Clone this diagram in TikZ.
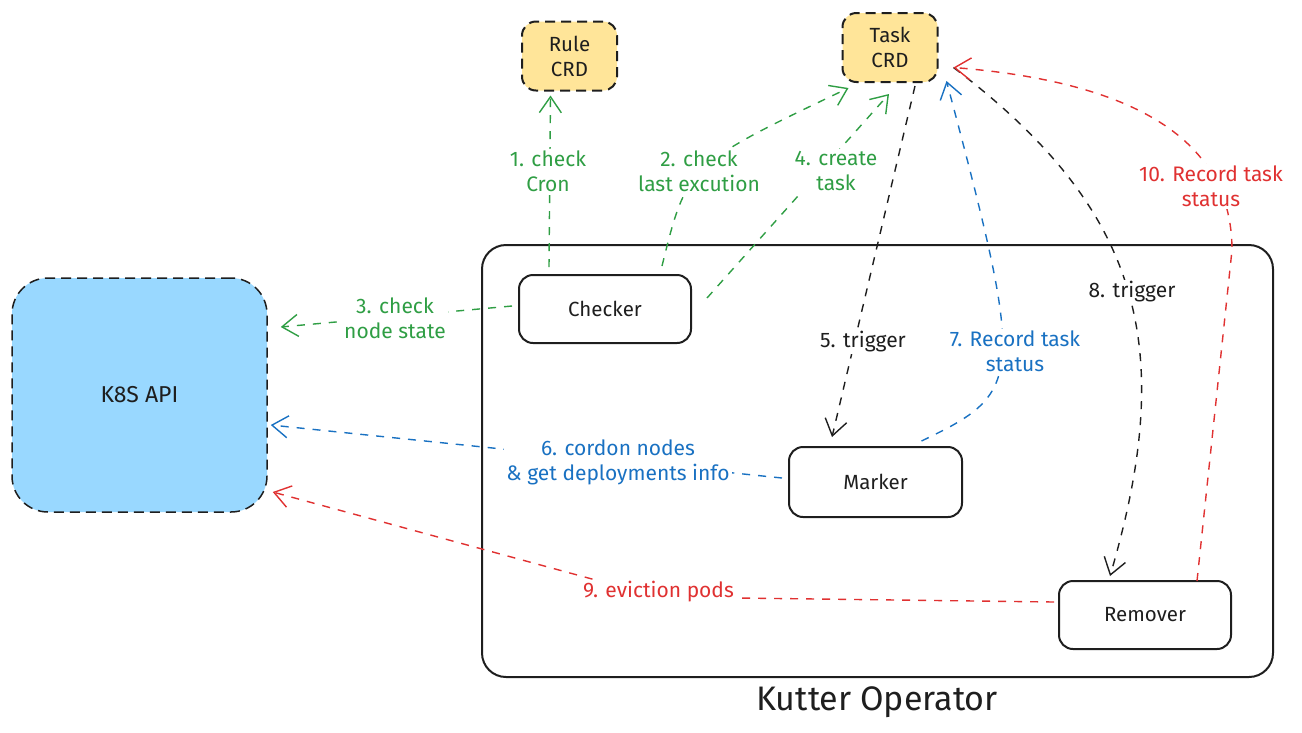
\documentclass[tikz,border=0pt]{standalone}
\usepackage{fontspec}
\setmainfont{Fira Sans}
\usetikzlibrary{arrows.meta,calc}
\definecolor{cgreen}{HTML}{2F9E44}
\definecolor{cblue}{HTML}{1971C2}
\definecolor{cred}{HTML}{E03131}
\definecolor{cink}{HTML}{1E1E1E}
\definecolor{cyellow}{HTML}{FFE599}
\definecolor{csky}{HTML}{99D8FF}
\begin{document}
\begin{tikzpicture}[x=1pt,y=-1pt,
  procbox/.style={draw=cink, line width=2pt, rounded corners=14pt, minimum width=172pt, minimum height=68pt, font=\fontsize{20.5}{24}\selectfont, text=cink},
  crdbox/.style={draw=cink, line width=2pt, dash pattern=on 10pt off 6pt, fill=cyellow, rounded corners=14pt, minimum width=95pt, minimum height=69pt, align=center, font=\fontsize{20.5}{25}\selectfont, text=cink},
  apibox/.style={draw=cink, line width=1.5pt, dash pattern=on 10pt off 6pt, fill=csky, rounded corners=36pt, minimum width=255pt, minimum height=234pt, font=\fontsize{23}{26}\selectfont, text=cink},
  framebox/.style={draw=cink, line width=2pt, rounded corners=24pt, minimum width=791pt, minimum height=432pt},
  conn/.style={line width=1.4pt, dash pattern=on 8pt off 8pt, -{Straight Barb[length=16pt,width=22pt]}},
  lbl/.style={fill=white, inner sep=2pt, align=center, font=\fontsize{21}{25}\selectfont},
]
\useasboundingbox (0,0) rectangle (1302,732);

% frame and boxes
\node[framebox] (op) at (877.5,461) {};
\node[font=\fontsize{34}{40}\selectfont, text=cink] (optitle) at (877,702) {Kutter Operator};
\node[crdbox] (rule) at (569.5,56) {Rule\\CRD};
\node[crdbox] (task) at (890,47.5) {Task\\CRD};
\node[apibox] (k8s) at (139.5,395) {K8S API};
\node[procbox] (checker) at (605,309) {Checker};
\node[procbox, minimum width=173pt, minimum height=70pt] (marker) at (875.5,482) {Marker};
\node[procbox] (remover) at (1145,615) {Remover};

% connectors
\draw[conn, cgreen] ($(checker.north)+(-56,-7)$) -- ($(rule.south)+(-19,4)$);
\draw[conn, cgreen] ($(checker.north)+(57,-8)$) .. controls (687,165) .. ($(task.south west)+(7,5)$);
\draw[conn, cgreen] ($(checker.west)+(-6,-3)$) -- ($(k8s.east)+(13,-68)$);
\draw[conn, cgreen] ($(checker.east)+(15,-11)$) -- ($(task.south)+(-1,11)$);
\draw[conn, cink] ($(task.south)+(25,3)$) -- ($(marker.north)+(-43.5,-9)$);
\draw[conn, cblue] ($(marker.west)+(-6,-4)$) -- ($(k8s.east)+(3,30)$);
\draw[conn, cblue] ($(marker.north)+(46,-5)$) .. controls (1024,392) and (1026,380) .. ($(task.south east)+(8,-2)$);
\draw[conn, cink] ($(task.east)+(15,20)$) .. controls (1140,209) and (1178,345) .. ($(remover.north)+(-35,-4)$);
\coordinate (bend9) at (658,597);
\draw[conn, cred] ($(remover.west)+(-4,-13)$) -- (bend9) -- ($(k8s.east)+(5,97)$);
\coordinate (bend10) at (1232,250);
\draw[conn, cred] ($(remover.north)+(52,1)$) -- (bend10) .. controls (1232,140) and (1135,82) .. ($(task.east)+(15,20)$);

% labels
\node[lbl, text=cgreen] (l1) at (548,171) {1. check\\Cron};
\node[lbl, text=cgreen] (l2) at (699,171) {2. check\\last excution};
\node[lbl, text=cgreen] (l3) at (395,318) {3. check\\node state};
\node[lbl, text=cgreen] (l4) at (836,171) {4. create\\task};
\node[lbl, text=cink] (l5) at (863,342) {5. trigger};
\node[lbl, text=cblue] (l6) at (618,462) {6. cordon nodes\\\& get deployments info};
\node[lbl, text=cblue] (l7) at (1015,351) {7. Record task\\status};
\node[lbl, text=cink] (l8) at (1132,292) {8. trigger};
\node[lbl, text=cred] (l9) at (658.5,592) {9. eviction pods};
\node[lbl, text=cred] (l10) at (1211,186) {10. Record task\\status};
\end{tikzpicture}
\end{document}
